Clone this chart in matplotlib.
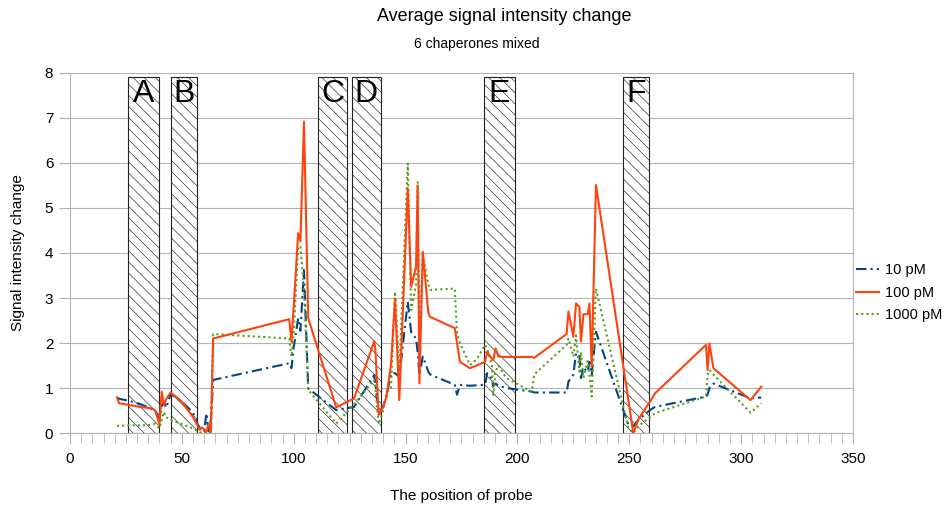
import matplotlib
matplotlib.use("Agg")
import matplotlib.pyplot as plt
from matplotlib.ticker import MultipleLocator

plt.rcParams['font.family'] = ['Liberation Sans', 'DejaVu Sans']
plt.rcParams['hatch.color'] = '#555555'
plt.rcParams['hatch.linewidth'] = 0.45

# probe positions and signal change for the three concentrations
pos = [21, 22, 26, 31, 36, 38, 40, 41, 42, 43, 45, 50, 55, 57, 58, 59, 60, 61, 62, 63, 64,
       98, 99, 100, 102, 103, 104.6, 106.5, 119, 127, 136, 136.5, 138, 140, 141.5, 143.5,
       145.3, 147.2, 151, 152.5, 154.7, 155.4, 156.2, 157.7, 160.2, 161, 172, 173, 174.3,
       178.8, 181.8, 185.5, 186.5, 188.6, 189.2, 190.2, 191.5, 195, 206.4, 207.5, 222,
       222.8, 225, 226.2, 227.7, 228.4, 229.5, 231.4, 232.2, 233.2, 235.1, 249.6, 251.8,
       254, 259.3, 261.5, 284.3, 285, 285.8, 287.6, 304.2, 309]

pm10 = [0.79, 0.76, 0.72, 0.65, 0.55, 0.5, 0.31, 0.6, 0.69, 0.56, 0.87, 0.7, 0.45, 0.2,
        0.12, 0.1, 0.05, 0.44, 0.0, 0.3, 1.18,
        1.55, 1.44, 1.9, 2.55, 2.27, 3.62, 0.99, 0.51, 0.58, 1.29, 1.1, 0.47, 0.58, 0.82,
        1.33, 1.33, 1.25, 2.92, 2.24, 2.1, 1.8, 1.29, 1.7, 1.36, 1.3, 1.07, 0.85, 1.07,
        1.05, 1.06, 1.07, 1.33, 1.2, 1.04, 1.1, 1.05, 1.0, 0.92, 0.9, 0.9,
        1.14, 1.3, 1.77, 1.74, 1.22, 1.45, 1.36, 1.58, 1.29, 2.25, 0.18, 0.15,
        0.29, 0.51, 0.58, 0.81, 0.85, 1.0, 1.1, 0.77, 0.79]

pm100 = [0.79, 0.66, 0.63, 0.58, 0.55, 0.51, 0.2, 0.92, 0.62, 0.75, 0.9, 0.7, 0.35, 0.17,
         0.07, 0.12, 0.08, 0.03, 0.2, 0.02, 2.1,
         2.53, 2.03, 2.8, 4.44, 4.26, 6.92, 2.55, 0.57, 0.77, 2.04, 1.85, 0.4, 0.58, 0.82,
         1.52, 2.99, 0.73, 5.44, 3.25, 3.7, 5.49, 1.1, 4.03, 2.66, 2.58, 2.33, 2.0, 1.58,
         1.44, 1.5, 1.58, 1.8, 1.65, 1.62, 1.88, 1.7, 1.69, 1.69, 1.67, 2.2,
         2.7, 2.14, 2.88, 2.8, 2.03, 2.64, 2.64, 2.88, 1.47, 5.51, 0.73, 0.0,
         0.3, 0.7, 0.88, 1.96, 1.4, 1.99, 1.44, 0.73, 1.03]

pm1000 = [0.16, 0.16, 0.17, 0.17, 0.18, 0.2, 0.1, 0.3, 0.47, 0.35, 0.29, 0.2, 0.1, 0.05,
          0.02, 0.0, 0.02, 0.0, 0.02, 0.0, 2.2,
          2.1, 1.7, 2.2, 4.14, 4.14, 3.2, 0.96, 0.21, 0.64, 1.18, 1.0, 0.2, 0.5, 0.9,
          1.0, 3.14, 1.36, 5.99, 2.73, 3.3, 5.59, 1.7, 3.96, 3.3, 3.18, 3.21, 2.21, 2.0,
          1.51, 1.64, 1.96, 1.85, 1.51, 0.82, 1.36, 1.5, 1.22, 0.92, 1.3, 1.96,
          2.1, 1.7, 2.17, 1.36, 1.8, 1.22, 1.6, 1.3, 0.81, 3.21, 0.1, 0.0,
          0.15, 0.35, 0.44, 0.81, 1.3, 1.4, 1.3, 0.45, 0.66]

# shaded regions
region_names = ['A', 'B', 'C', 'D', 'E', 'F']
region_start = [26, 45, 111, 126, 185, 247]
region_end = [40, 57, 124, 139, 199, 259]
region_top = 7.92

fig = plt.figure(figsize=(9.48, 5.09), dpi=100)
ax = fig.add_axes([0.0738, 0.1493, 0.826, 0.7073])

for name, a, b in zip(region_names, region_start, region_end):
    ax.bar(a, region_top, width=b - a, align='edge', facecolor='white',
           edgecolor='#222222', linewidth=0.8, hatch='\\\\\\', zorder=2)
    ax.text((a + b) / 2, region_top - 0.06, name, ha='center', va='top',
            fontsize=23, zorder=5)

ax.plot(pos, pm10, color='#004586', lw=1.5, dashes=(5, 2, 1, 2), label='10 pM', zorder=3)
ax.plot(pos, pm100, color='#ff420e', lw=1.5, label='100 pM', zorder=4)
ax.plot(pos, pm1000, color='#579d1c', lw=1.5, dashes=(1, 1.5), label='1000 pM', zorder=3)

ax.set_xlim(0, 350)
ax.set_ylim(0, 8)
ax.xaxis.set_major_locator(MultipleLocator(50))
ax.xaxis.set_minor_locator(MultipleLocator(5))
ax.yaxis.set_major_locator(MultipleLocator(1))
ax.grid(axis='y', color='#b3b3b3', lw=0.8, zorder=0)
ax.set_axisbelow(True)

ax.spines['top'].set_visible(False)
for s in ['left', 'right', 'bottom']:
    ax.spines[s].set_color('#b3b3b3')
ax.tick_params(axis='both', which='both', direction='out', color='#b3b3b3',
               labelsize=11)
ax.tick_params(axis='x', which='major', length=8, pad=6)
ax.tick_params(axis='x', which='minor', length=7)
ax.tick_params(axis='y', length=8, pad=4)

ax.set_xlabel('The position of probe', fontsize=11, labelpad=16)
ax.set_ylabel('Signal intensity change', fontsize=11, labelpad=14)

fig.text(0.532, 0.968, 'Average signal intensity change', ha='center', va='center', fontsize=13)
fig.text(0.503, 0.913, '6 chaperones mixed', ha='center', va='center', fontsize=10)

fig.legend(loc='center left', bbox_to_anchor=(0.903, 0.425), frameon=False,
           fontsize=10.5, handlelength=1.6, handletextpad=0.4, labelspacing=0.6,
           borderpad=0, borderaxespad=0)

fig.savefig('out.png', dpi=100)
